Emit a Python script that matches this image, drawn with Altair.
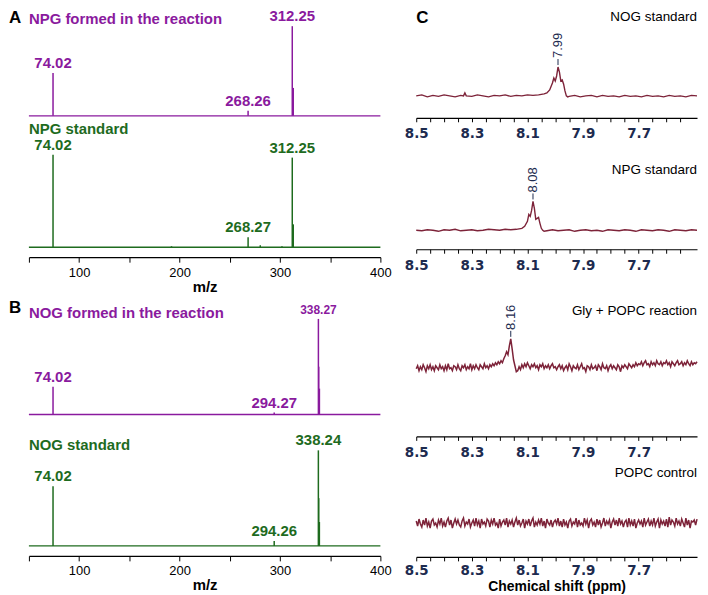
import altair as alt
import pandas as pd

FONT = "Liberation Sans"
PURPLE = "#8a1a9e"
GREEN = "#1e6b1e"
MAROON = "#7d2339"
NAVY = "#1d2b4f"

# ---------------- MS data (m/z, relative intensity) ----------------
a_rxn_mz = [74.02, 268.26, 312.25, 313.25]
a_rxn_int = [43, 5, 90, 28]
a_rxn_lab_mz = [74.02, 268.26, 312.25]
a_rxn_lab = ["74.02", "268.26", "312.25"]

a_std_mz = [74.02, 192.0, 268.27, 280.4, 302.0, 312.25, 313.25]
a_std_int = [93, 1, 10, 2, 1, 90, 23]
a_std_lab_mz = [74.02, 268.27, 312.25]
a_std_lab = ["74.02", "268.27", "312.25"]

b_rxn_mz = [74.02, 294.27, 338.27, 338.6, 339.27]
b_rxn_int = [28, 2, 96, 48, 26]
b_rxn_lab_mz = [74.02, 294.27, 338.27]
b_rxn_lab = ["74.02", "294.27", "338.27"]

b_std_mz = [74.02, 294.26, 338.24, 338.6, 339.24]
b_std_int = [60, 5, 96, 48, 24]
b_std_lab_mz = [74.02, 294.26, 338.24]
b_std_lab = ["74.02", "294.26", "338.24"]

MS_TICKS = [50, 100, 150, 200, 250, 300, 350, 400]

# ---------------- NMR data (ppm, intensity) ----------------
c1_ppm = [8.50, 8.48, 8.46, 8.44, 8.42, 8.40, 8.38, 8.36, 8.34,
          8.33, 8.325, 8.32,
          8.30, 8.28, 8.26, 8.24, 8.22, 8.20, 8.18, 8.16, 8.14, 8.12, 8.10, 8.08, 8.06, 8.04,
          8.03, 8.02, 8.01, 8.005, 8.00, 7.995, 7.99, 7.985, 7.98, 7.975, 7.97, 7.965, 7.96, 7.955, 7.95,
          7.93, 7.91, 7.89, 7.87, 7.85, 7.83, 7.81, 7.79, 7.77, 7.75, 7.73, 7.71, 7.69, 7.67, 7.65,
          7.63, 7.61, 7.59, 7.57, 7.55, 7.53, 7.51, 7.49]
c1_val = [0, 1, -1, 0.5, -0.5, 1, 0, -1, 0.5,
          0, 3, 0,
          -0.5, 1, 0, -1, 0.5, 0, 1, -0.5, 0.5, 0, 1, 0.5, 1, 2,
          3, 6, 13, 18, 15, 20, 29, 24, 15, 16, 12, 5, 0, -1, -0.5,
          0.5, -1, 0, 0.5, -1, 0.5, -0.5, 0, -1, 0.5, -0.5, 0, -1, 0.5, -0.5,
          0, -1, 0.5, -0.5, 0, -1, 0.5, 0]

c2_ppm = [8.50, 8.48, 8.46, 8.44, 8.42, 8.40, 8.38, 8.36, 8.34, 8.32, 8.30, 8.28, 8.26, 8.24,
          8.22, 8.20, 8.18, 8.16, 8.14,
          8.13, 8.12, 8.11, 8.10,
          8.095, 8.09, 8.085, 8.08, 8.075, 8.07, 8.065, 8.06, 8.055, 8.05, 8.045, 8.04,
          8.03, 8.01,
          7.99, 7.97, 7.95, 7.93, 7.91, 7.89, 7.87, 7.85, 7.83, 7.81, 7.79, 7.77, 7.75, 7.73,
          7.71, 7.69, 7.67, 7.65, 7.63, 7.61, 7.59, 7.57, 7.55, 7.53, 7.51, 7.49]
c2_val = [0, -0.5, 0.5, 0, -1, 0.5, 0, 1, -0.5, 0, 0.5, -0.5, 0, 1,
          0.5, 0, 1, 0.5, 1,
          1.5, 2, 4, 9,
          16, 14, 20, 29, 22, 11, 12, 13, 7, 2, 0, -1,
          -0.5, 0.5,
          -0.5, 0, 0.5, -1, 0, 0.5, -0.5, 0, -1, 0.5, 0, -0.5, 0.5, 0,
          -1, 0.5, 0, -0.5, 0.5, 0, -1, 0.5, 0, -0.5, 0.5, 0]

# evenly sampled traces from 8.50 ppm in 0.005 ppm steps
C_START, C_STEP = 8.5, 0.005
c3_val = [-1, 2, -3, 1, -2, 3, 0, -4, 2, -1,
          3, -2, 1, -3, 2, 0, -2, 3, -1, 1,
          -3, 2, -2, 4, -1, 0, -3, 2, 1, -2,
          3, -1, -3, 2, 0, 3, -2, 1, -1, 4,
          -2, 2, -1, 3, 0, -2, 3, 1, -1, 4,
          0, 2, -1, 3, 1, 4,
          2, 5, 3, 6, 4, 7, 5,
          9, 12, 16, 13, 22, 29, 19, 8, 2, -4, -3,
          1, -2, 3, 0, 4, 1, 5, 2, -1, 3,
          1, 4, 0, 2, -2, 3, 1, 4, -1, 2,
          0, 3, -1, 2, 4, 0, 1,
          -2, 1, 3, -1, 2, -3, 0, 2, -2, 4,
          1, -3, 2, 0, -1, 3, -2, 1, 4, -1,
          0, -4, 2, 1, -2, 3, -1, 0, 2, -3,
          3, 1, -2, 4, 0, -1, 2, -3, 1, 3,
          -1, 2, 0, -2, 3, 1, -4, 2, 0, 3,
          1, -1, 4, 2, 0, 3, 1, 5, 2, 4,
          3, 6, 2, 5, 7, 3, 4, 1, 6, 3,
          5, 2, 7, 4, 3, 6, 2, 5, 4, 7,
          3, 5, 1, 6, 4, 2, 5, 7, 3, 4,
          6, 2, 5, 3, 7, 4, 2, 6, 3, 5,
          4, 6]
c4_val = [2, -3, 4, -1, -4, 3, -2, 5, -3, 1,
          -5, 2, 4, -2, 0, -4, 3, -1, 5, -3,
          1, -4, 2, 5, -2, 3, -5, 0, 4, -1,
          3, -2, -4, 2, 5, -3, 1, -1, 4, -4,
          0, 3, -3, 5, -2, 2, -5, 4, -1, 1,
          -3, 4, 2, -4, 3, -1, 5, -2, 0, -5,
          4, -3, 1, 3, -2, 5, -4, 2, -1, 3,
          -4, 1, 5, -2, 3, -3, 0, 4, -5, 2,
          -1, 4, -3, 2, 5, -4, 1, -2, 3, -1,
          5, -3, 2, -5, 4, 0, -2, 3, -4, 1,
          3, -1, 5, -3, 2, -4, 4, -2, 1, -5,
          2, 4, -3, 1, -1, 5, -4, 3, -2, 0,
          -3, 5, -1, 3, -5, 2, 4, -2, 1, -4,
          4, -2, 3, -4, 0, 5, -3, 2, -1, 3,
          -5, 1, 4, -2, 3, -3, 5, -1, 2, -4,
          1, 3, -4, 5, -2, 2, -3, 4, -5, 0,
          3, -1, 2, -4, 5, -2, 1, 4, -3, 2,
          -2, 5, -3, 1, 4, -5, 3, -1, 2, -3,
          4, -4, 6, -2, 3, 1, -3, 5, -1, 2,
          -3, 4, 0, -4, 5, -2, 3, -5, 2, 1,
          3, -2, 4]
c_grid = [round(C_START - C_STEP * i, 3) for i in range(len(c3_val))]

# peak annotations (ppm, height, label)
c1_peak = (7.99, 29, "7.99")
c2_peak = (8.08, 29, "8.08")
c3_peak = (8.16, 29, "8.16")

C_TICKS = [round(8.5 - 0.05 * k, 2) for k in range(20)]
C_WIDTH = 282


def text_layer(txt, x, y, size, color, weight="normal", align="left", font=FONT):
    return alt.Chart(pd.DataFrame({"t": [txt]})).mark_text(
        font=font, fontSize=size, fontWeight=weight, color=color,
        align=align, baseline="middle"
    ).encode(x=alt.value(x), y=alt.value(y), text="t:N")


def ms_panel(mz, inten, lab_mz, lab_txt, color, title, title_y, height, ydom,
             letter=None, letter_y=0, show_axis=False, small=None, anchor=False):
    xs = alt.Scale(domain=[50, 400], nice=False, zero=False)
    ys = alt.Scale(domain=ydom, nice=False, zero=False)
    if show_axis:
        axis = alt.Axis(values=MS_TICKS, format="d",
                        labelExpr="datum.value % 100 == 0 ? datum.label : ''",
                        tickSize=5, tickColor="black", domainColor="black", domainWidth=1.2,
                        labelFont=FONT, labelFontSize=13, labelColor="black", labelPadding=4,
                        labelFlush=False, labelOverlap=False, grid=False,
                        title="m/z", titleFont=FONT, titleFontSize=15,
                        titleFontWeight="bold", titleColor="black", titlePadding=0)
    else:
        axis = None

    def X(f):
        return alt.X(f + ":Q", scale=xs, axis=axis)

    def Y(f):
        return alt.Y(f + ":Q", scale=ys, axis=None)

    base = alt.Chart(pd.DataFrame({"x0": [50], "x1": [400], "y0": [0]})).mark_rule(
        color=color, strokeWidth=1.3).encode(x=X("x0"), x2="x1", y=Y("y0"))
    pk = alt.Chart(pd.DataFrame({"mz": mz, "i": inten, "z": [0] * len(mz)})).mark_rule(
        color=color, strokeWidth=1.5).encode(x=X("mz"), y=Y("z"), y2="i")
    look = dict(zip(mz, inten))
    ldf = pd.DataFrame({"mz": lab_mz, "i": [look[m] for m in lab_mz], "t": lab_txt})
    size = alt.value(15)
    if small:
        size = alt.condition(f"datum.t == '{small}'", alt.value(12), alt.value(15))
    labs = alt.Chart(ldf).mark_text(font=FONT, fontWeight="bold", color=color,
                                    baseline="alphabetic", dy=-5).encode(
        x=X("mz"), y=Y("i"), text="t:N", size=size)
    layers = [base, pk, labs, text_layer(title, 0, title_y, 15, color, "bold")]
    if letter:
        layers.append(text_layer(letter, -20, letter_y, 17, "black", "bold"))
    if anchor:
        # invisible (white) corner mark fixing the chart's top-left origin
        layers.append(alt.Chart(pd.DataFrame({"a": [0]})).mark_rule(
            color="white", strokeWidth=1).encode(
            x=alt.value(-28), x2=alt.value(-26), y=alt.value(-10)))
    return alt.layer(*layers).properties(width=353, height=height)


def nmr_panel(ppm, val, label, label_y, height, ydom, peak=None, letter=False,
              title=None, width=1.4, label_pad=5):
    xs = alt.Scale(domain=[7.49, 8.5], reverse=True, nice=False, zero=False)
    ys = alt.Scale(domain=ydom, nice=False, zero=False)
    axis = alt.Axis(values=C_TICKS,
                    labelExpr="round(datum.value*100) % 20 == 10 ? format(datum.value, '.1f') : ''",
                    tickSize=4, tickColor="black", domainColor="black", domainWidth=1.2,
                    labelFont="DejaVu Sans", labelFontWeight="bold", labelFontSize=13.5,
                    labelColor=NAVY, labelPadding=label_pad, labelFlush=False,
                    labelOverlap=False, grid=False, title=title if title else None,
                    titleFont=FONT, titleFontSize=14, titleFontWeight="bold",
                    titleColor="black", titlePadding=2)

    def X(f):
        return alt.X(f + ":Q", scale=xs, axis=axis)

    def Y(f):
        return alt.Y(f + ":Q", scale=ys, axis=None)

    line = alt.Chart(pd.DataFrame({"ppm": ppm, "v": val})).mark_line(
        color=MAROON, strokeWidth=width).encode(x=X("ppm"), y=Y("v"))
    layers = [line, text_layer(label, C_WIDTH, label_y, 13.5, "black", align="right")]
    if peak:
        pdf = pd.DataFrame({"ppm": [peak[0]], "v": [peak[1]], "t": [peak[2]]})
        rule = alt.Chart(pdf).transform_calculate(
            lo="datum.v + 2", hi="datum.v + 8").mark_rule(
            color=NAVY, strokeWidth=1).encode(x=X("ppm"), y=Y("lo"), y2="hi")
        txt = alt.Chart(pdf).transform_calculate(ty="datum.v + 9").mark_text(
            angle=270, align="left", baseline="middle", font=FONT, fontSize=13,
            color=NAVY).encode(x=X("ppm"), y=Y("ty"), text="t:N")
        layers += [rule, txt]
    if letter:
        layers.append(text_layer("C", 0, 6, 17, "black", "bold"))
    return alt.layer(*layers).properties(width=C_WIDTH, height=height)


A1 = ms_panel(a_rxn_mz, a_rxn_int, a_rxn_lab_mz, a_rxn_lab, PURPLE,
              "NPG formed in the reaction", 7, 104, [0, 104], letter="A", letter_y=6,
              anchor=True)
A2 = ms_panel(a_std_mz, a_std_int, a_std_lab_mz, a_std_lab, GREEN,
              "NPG standard", -14, 115, [-10, 105], show_axis=True)
B1 = ms_panel(b_rxn_mz, b_rxn_int, b_rxn_lab_mz, b_rxn_lab, PURPLE,
              "NOG formed in the reaction", 31, 133, [0, 133], letter="B", letter_y=26,
              small="338.27")
B2 = ms_panel(b_std_mz, b_std_int, b_std_lab_mz, b_std_lab, GREEN,
              "NOG standard", -16, 95, [-10, 85], show_axis=True)

C1 = nmr_panel(c1_ppm, c1_val, "NOG  standard", 5, 106, [-22, 84], peak=c1_peak, letter=True)
C2 = nmr_panel(c2_ppm, c2_val, "NPG  standard", 27, 107, [-19, 88], peak=c2_peak)
C3 = nmr_panel(c_grid, c3_val, "Gly  +  POPC  reaction", 29, 155, [-69, 86], peak=c3_peak,
               width=1.5)
C4 = nmr_panel(c_grid, c4_val, "POPC  control", 12, 96, [-34, 62],
               title="Chemical  shift  (ppm)", width=1.5, label_pad=3)

chart = alt.concat(A1, C1, A2, C2, B1, C3, B2, C4, columns=2,
                   spacing={"row": 25, "column": 36}, bounds="flush", align="each"
                   ).properties(padding={"left": -8, "top": -8, "right": 0, "bottom": 0}
                                ).configure_view(stroke=None)

chart.save("out.html", embed_options={"renderer": "svg", "actions": False})
